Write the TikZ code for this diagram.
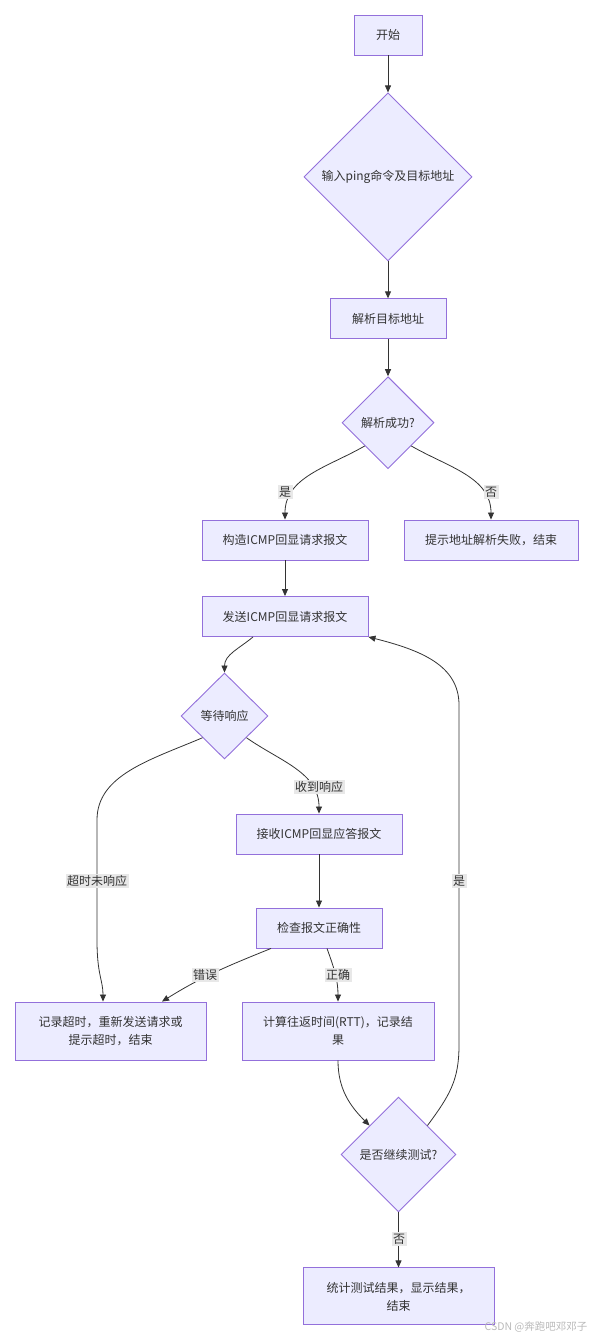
\documentclass[tikz,border=0pt]{standalone}
\usepackage{fontspec}
\setmainfont{Noto Sans CJK SC}
\usepackage{xcolor}
\usetikzlibrary{arrows.meta,positioning,shapes.geometric}
\definecolor{nodefill}{HTML}{ECECFF}
\definecolor{nodeline}{HTML}{9370DB}
\definecolor{edgegray}{HTML}{333333}
\definecolor{lblfill}{HTML}{E8E8E8}
\definecolor{txtgray}{HTML}{333333}

\begin{document}
\begin{tikzpicture}[x=1pt,y=1pt,>={Triangle[length=7pt,width=6pt]},
  font=\fontsize{12}{18}\selectfont,text=txtgray,
  box/.style={draw=nodeline,fill=nodefill,line width=0.9pt,align=center,inner sep=0pt},
  decision/.style={diamond,draw=nodeline,fill=nodefill,line width=0.9pt,inner sep=0pt},
  lbl/.style={fill=lblfill,inner sep=1.5pt},
  flow/.style={->,draw=edgegray,line width=0.8pt}]
\useasboundingbox (0,0) rectangle (593,-1338);
% Top column
\node[box,minimum width=68pt,minimum height=40pt] (start) at (388,-35) {开始};
\node[decision,minimum width=168pt,minimum height=168pt,below=37pt of start] (input) {输入ping命令及目标地址};
\node[box,minimum width=116pt,minimum height=40pt,below=37pt of input] (parse) {解析目标地址};
\node[decision,minimum width=92pt,minimum height=92pt,below=37pt of parse] (parseok) {解析成功?};
\node[box,minimum width=166pt,minimum height=40pt] (build) at (285,-540) {构造ICMP回显请求报文};
\node[box,minimum width=174pt,minimum height=40pt] (fail) at (491,-540) {提示地址解析失败，结束};
% Send and wait
\node[box,minimum width=166pt,minimum height=40pt] (send) at (285,-616.5) {发送ICMP回显请求报文};
\node[decision,minimum width=87pt,minimum height=86pt] (wait) at (224.5,-716) {等待响应};
\node[box,minimum width=166pt,minimum height=40pt] (recv) at (319,-834) {接收ICMP回显应答报文};
\node[box,minimum width=126pt,minimum height=40pt] (check) at (319,-928) {检查报文正确性};
\node[box,minimum width=191pt,minimum height=58pt] (timeout) at (110.5,-1031) {记录超时，重新发送请求或\\提示超时，结束};
\node[box,minimum width=192pt,minimum height=58pt] (rtt) at (338,-1031) {计算往返时间(RTT)，记录结\\果};
% Loop
\node[decision,minimum width=115pt,minimum height=115pt] (again) at (398.5,-1154.5) {是否继续测试?};
\node[box,minimum width=191pt,minimum height=57pt,below=55pt of again] (stats) {统计测试结果，显示结果，\\结束};
% Connectors
\draw[flow] (start) -- (input);
\draw[flow] (input) -- (parse);
\draw[flow] (parse) -- (parseok);
\draw[flow] (parseok.south west) to[out=-150,in=90] (build.north);
\draw[flow] (parseok.south east) to[out=-30,in=90] (fail.north);
\draw[flow] (build) -- (send);
\draw[flow] ([xshift=-32pt]send.south) to[out=-140,in=90] (wait.north);
\draw[flow] (wait.south west) .. controls (150,-760) and (97,-775) .. (97,-820) -- (97,-940) .. controls (97,-975) and (103,-980) .. ([xshift=-7.5pt]timeout.north);
\draw[flow] (wait.south east) to[out=-35,in=90] (recv.north);
\draw[flow] (recv) -- (check);
\draw[flow] ([xshift=-48pt]check.south) to[out=-158,in=32] ([xshift=51.5pt]timeout.north);
\draw[flow] ([xshift=8pt]check.south) to[out=-70,in=90] (rtt.north);
\draw[flow] (rtt.south) to[out=-90,in=135] (again.north west);
\draw[flow] (again.north east) .. controls (450,-1095) and (459,-1080) .. (459,-1045) -- (459,-705) .. controls (459,-665) and (420,-650) .. (send.south east);
\draw[flow] (again) -- (stats);
% Edge labels
\node[lbl] (yes1) at (285,-492) {是};
\node[lbl] (no1) at (491,-492) {否};
\node[lbl] (got) at (319,-787) {收到响应};
\node[lbl] (tmo) at (97,-881) {超时未响应};
\node[lbl] (yes2) at (459,-881) {是};
\node[lbl] (bad) at (205,-975) {错误};
\node[lbl] (good) at (338,-975) {正确};
\node[lbl] (no2) at (399,-1239) {否};
\node[text=gray!55,font=\fontsize{10.5}{12}\selectfont] (mark) at (536,-1327) {CSDN @奔跑吧邓邓子};
\end{tikzpicture}
\end{document}
